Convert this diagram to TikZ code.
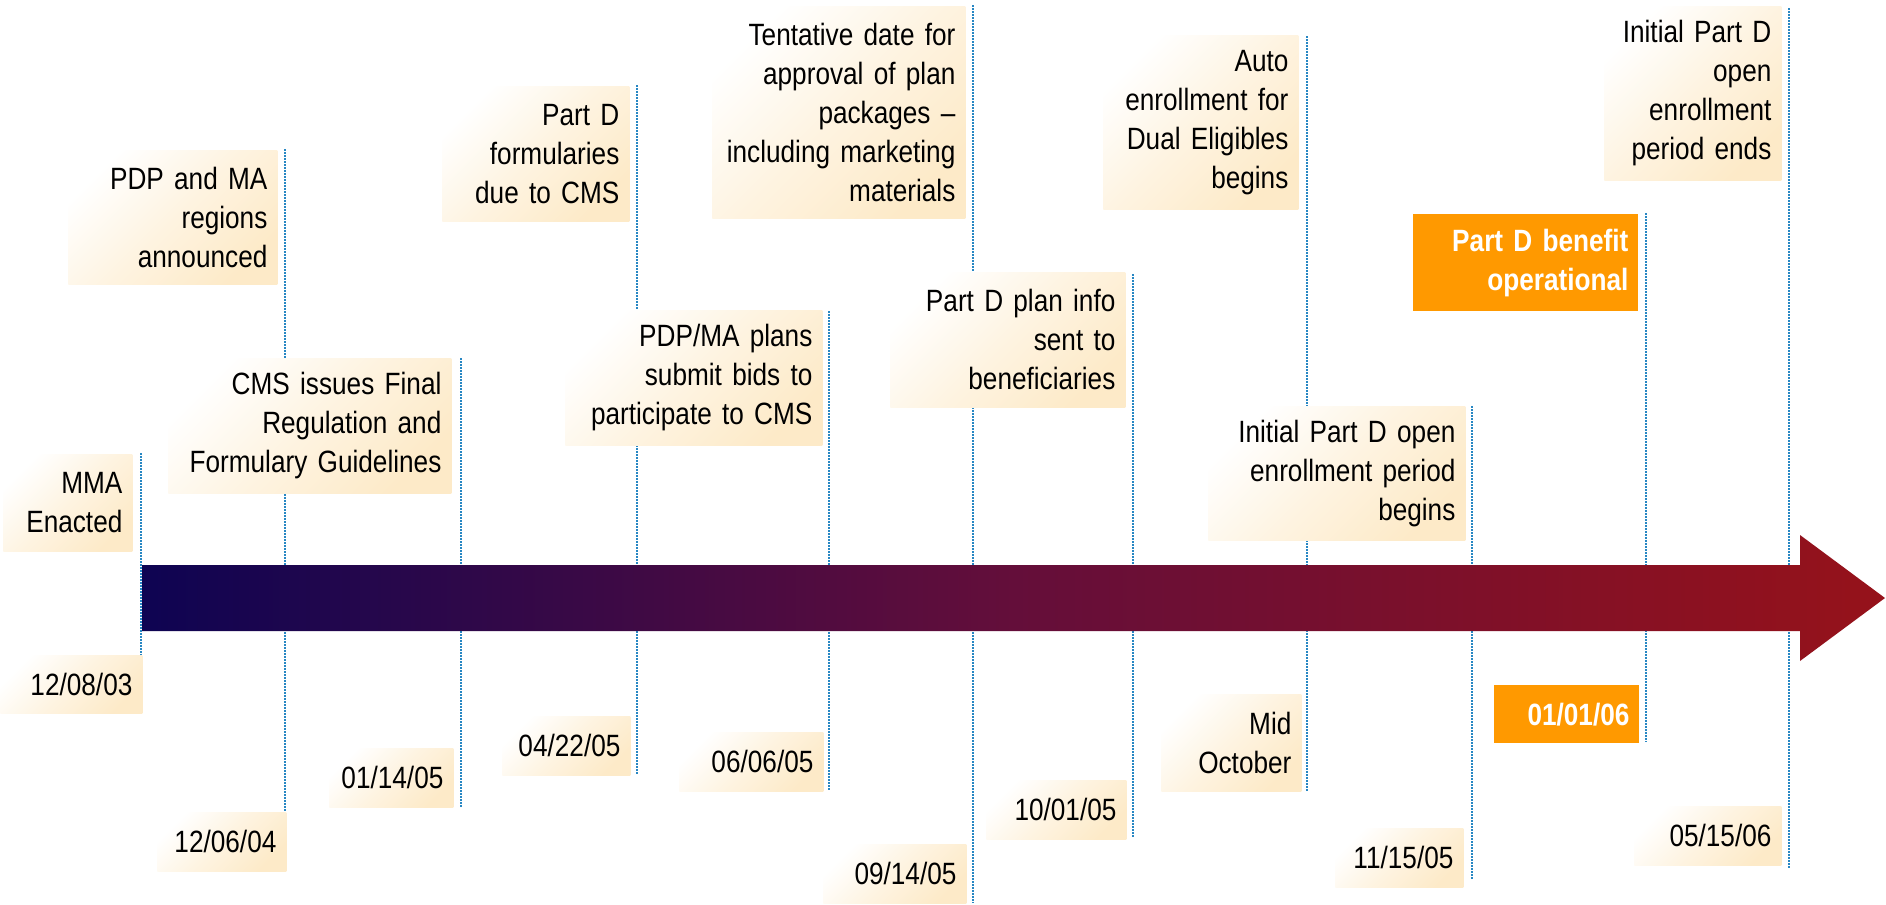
\documentclass[tikz,border=0pt]{standalone}
\usepackage{fontspec}
\usepackage{tikz}
\newfontfamily\evfont[FakeStretch=0.85]{Liberation Sans}
\definecolor{evpeach}{RGB}{253,234,200}
\definecolor{evorange}{RGB}{255,153,0}
\definecolor{evnavy}{RGB}{14,4,82}
\definecolor{evplum}{RGB}{100,14,58}
\definecolor{evred}{RGB}{150,18,26}
\definecolor{evdot}{RGB}{40,135,195}

\begin{document}
\begin{tikzpicture}[x=0.5pt,y=0.5pt,yscale=-1,
  evline/.style={color=evdot,line width=0.75pt,dash pattern=on 0.75pt off 0.75pt},
  evbox/.style={anchor=north west,inner xsep=5pt,inner ysep=0pt,align=right,
    font=\evfont\fontsize{15.4}{19.5}\selectfont,
    top color=white,bottom color=evpeach,middle color=evpeach!55,shading angle=45},
  evhot/.style={anchor=north west,inner xsep=5pt,inner ysep=0pt,align=right,
    font=\evfont\bfseries\fontsize{15.4}{19.5}\selectfont,fill=evorange,text=white}]
\useasboundingbox (0,0) rectangle (1886,905);

% dotted date lines
\coordinate (tMMA) at (141,453);  \coordinate (bMMA) at (141,712);
\coordinate (tReg) at (285,149);  \coordinate (bReg) at (285,870);
\coordinate (tFin) at (461,358);  \coordinate (bFin) at (461,807);
\coordinate (tFrm) at (637,85);   \coordinate (bFrm) at (637,774);
\coordinate (tBid) at (829,311);  \coordinate (bBid) at (829,791);
\coordinate (tApp) at (973,5);    \coordinate (bApp) at (973,903);
\coordinate (tInf) at (1133,274); \coordinate (bInf) at (1133,838);
\coordinate (tAut) at (1307,36);  \coordinate (bAut) at (1307,791);
\coordinate (tOpn) at (1472,406); \coordinate (bOpn) at (1472,879);
\coordinate (tBen) at (1646,213); \coordinate (bBen) at (1646,742);
\coordinate (tEnd) at (1789,8);   \coordinate (bEnd) at (1789,869);
\draw[evline] (tMMA) -- (bMMA);
\draw[evline] (tReg) -- (bReg);
\draw[evline] (tFin) -- (bFin);
\draw[evline] (tFrm) -- (bFrm);
\draw[evline] (tBid) -- (bBid);
\draw[evline] (tApp) -- (bApp);
\draw[evline] (tInf) -- (bInf);
\draw[evline] (tAut) -- (bAut);
\draw[evline] (tOpn) -- (bOpn);
\draw[evline] (tBen) -- (bBen);
\draw[evline] (tEnd) -- (bEnd);

% time arrow
\shade[left color=evnavy,right color=evred,middle color=evplum] (142,565) -- (1800,565) -- (1800,535) -- (1885,598) -- (1800,661) -- (1800,631) -- (142,631) -- cycle;

% events above the arrow
\node[evbox,text width=54.5pt,minimum height=48.5pt] (mma) at (3,454) {MMA\\Enacted};
\node[evbox,text width=94.5pt,minimum height=67pt] (regions) at (68,150) {PDP and MA\\regions\\announced};
\node[evbox,text width=131.5pt,minimum height=67.5pt] (finalreg) at (168,358) {CMS issues Final\\Regulation and\\Formulary Guidelines};
\node[evbox,text width=83.5pt,minimum height=67.5pt] (formulary) at (442,86) {Part D\\formularies\\due to CMS};
\node[evbox,text width=118.5pt,minimum height=67.5pt] (bids) at (565,310) {PDP/MA plans\\submit bids to\\participate to CMS};
\node[evbox,text width=116.5pt,minimum height=106pt] (approval) at (712,6) {Tentative date for\\approval of plan\\packages –\\including marketing\\materials};
\node[evbox,text width=107.5pt,minimum height=67.5pt] (planinfo) at (890,272) {Part D plan info\\sent to\\beneficiaries};
\node[evbox,text width=87.5pt,minimum height=87pt] (autoenr) at (1103,35) {Auto\\enrollment for\\Dual Eligibles\\begins};
\node[evbox,text width=118.5pt,minimum height=67pt] (openbegin) at (1208,406) {Initial Part D open\\enrollment period\\begins};
\node[evhot,text width=102.5pt,minimum height=48.5pt] (benefit) at (1413,214) {Part D benefit\\operational};
\node[evbox,text width=78.5pt,minimum height=87pt] (openend) at (1604,6) {Initial Part D\\open\\enrollment\\period ends};

% dates below the arrow
\node[evbox,text width=61pt,minimum height=29pt] (dmma) at (0,655) {12/08/03};
\node[evbox,text width=54.5pt,minimum height=29.5pt] (dregions) at (157,812) {12/06/04};
\node[evbox,text width=52pt,minimum height=29.5pt] (dfinalreg) at (329,748) {01/14/05};
\node[evbox,text width=54pt,minimum height=29.5pt] (dformulary) at (502,716) {04/22/05};
\node[evbox,text width=62pt,minimum height=29.5pt] (dbids) at (679,732) {06/06/05};
\node[evbox,text width=61.5pt,minimum height=29.5pt] (dapproval) at (823,844) {09/14/05};
\node[evbox,text width=60pt,minimum height=29.5pt] (dplaninfo) at (986,780) {10/01/05};
\node[evbox,text width=60pt,minimum height=48.5pt] (dautoenr) at (1161,694) {Mid\\October};
\node[evbox,text width=54pt,minimum height=29.5pt] (dopenbegin) at (1335,828) {11/15/05};
\node[evhot,text width=62.5pt,minimum height=29pt] (dbenefit) at (1494,685) {01/01/06};
\node[evbox,text width=63.5pt,minimum height=29.5pt] (dopenend) at (1634,806) {05/15/06};
\end{tikzpicture}
\end{document}
